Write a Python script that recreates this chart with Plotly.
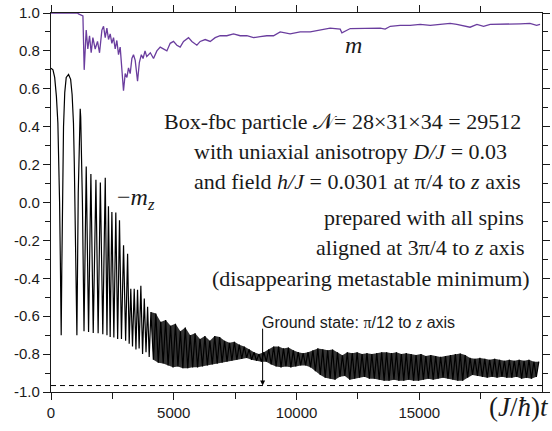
import plotly.graph_objects as go

# ---------------- data ----------------
# purple curve: m(t)
m_t = [0, 1080, 1120, 1200, 1300, 1352, 1434, 1500, 1570, 1637, 1705, 1800, 1895, 1977,
       2073, 2140, 2208, 2276, 2343, 2411, 2480, 2547, 2615, 2682, 2750, 2818, 2887,
       2953, 3022, 3092, 3157, 3226, 3295, 3360, 3430, 3525, 3600, 3680, 3750, 3830,
       3900, 4046, 4176, 4312, 4448, 4583, 4720, 4855, 4990, 5127, 5262, 5398, 5602,
       5738, 5942, 6077, 6280, 6485, 6688, 6892, 7163, 7434, 7706, 7978, 8249, 8521,
       8792, 9063, 9335, 9740, 10150, 10560, 10970, 11370, 11780, 11850, 12190, 12600,
       13000, 13410, 13610, 13820, 14220, 14630, 15040, 15450, 15850, 16260, 16530,
       17070, 17350, 17620, 17890, 18300, 18700, 19110, 19510, 19780, 19920]
m_v = [1.0, 1.0, 0.995, 0.99, 0.985, 0.70, 0.91, 0.81, 0.88, 0.79, 0.87, 0.81, 0.85, 0.79,
       0.91, 0.93, 0.87, 0.92, 0.86, 0.89, 0.84, 0.87, 0.81, 0.855, 0.78, 0.82, 0.72,
       0.59, 0.68, 0.66, 0.71, 0.68, 0.76, 0.78, 0.75, 0.64, 0.74, 0.78, 0.76, 0.80,
       0.77, 0.79, 0.76, 0.80, 0.82, 0.81, 0.80, 0.84, 0.85, 0.83, 0.82, 0.85, 0.87,
       0.85, 0.83, 0.85, 0.86, 0.85, 0.87, 0.88, 0.88, 0.89, 0.88, 0.88, 0.87, 0.875,
       0.88, 0.88, 0.90, 0.89, 0.90, 0.90, 0.912, 0.92, 0.915, 0.895, 0.918, 0.918,
       0.92, 0.92, 0.915, 0.93, 0.935, 0.935, 0.94, 0.935, 0.94, 0.945, 0.94,
       0.925, 0.94, 0.93, 0.94, 0.94, 0.94, 0.943, 0.945, 0.935, 0.94]

# black curve: -m_z(t), early well-resolved part
mz_early_t = [0, 80, 150, 220, 280, 320, 350, 380, 400, 415,
              440, 465, 490, 510, 560, 620, 715, 800, 860, 915, 950, 985, 1020, 1055,
              1110, 1170, 1190, 1210, 1280, 1345,
              1435, 1530, 1625, 1720, 1830, 1920, 2010, 2110, 2210, 2280, 2340, 2410,
              2480, 2560, 2640, 2715, 2790, 2870, 2955, 3040, 3120, 3185, 3250, 3320,
              3390, 3460, 3525, 3590, 3660, 3730, 3800, 3870, 3935, 4000]
mz_early_v = [0.708, 0.70, 0.66, 0.56, 0.42, 0.22, 0.0, -0.3, -0.5, -0.70,
              -0.35, -0.05, 0.22, 0.40, 0.58, 0.66, 0.676, 0.65, 0.57, 0.42, 0.20, -0.05, -0.35, -0.70,
              0.05, 0.45, 0.495, 0.45, 0.0, -0.68,
              0.19, -0.683, 0.15, -0.688, 0.12, -0.69, 0.105, -0.695, 0.13, -0.70, -0.02, -0.71,
              -0.05, -0.713, -0.053, -0.72, -0.094, -0.72, -0.226, -0.73, -0.27, -0.745, -0.455, -0.76,
              -0.455, -0.775, -0.46, -0.77, -0.44, -0.80, -0.507, -0.79, -0.55, -0.815]

# dense oscillating part: successive maxima and minima
peak_t = [4070, 4270, 4470, 4670, 4870, 5070, 5270, 5470, 5670, 5870,
          6070, 6270, 6470, 6670, 6870, 7070, 7270, 7470, 7670, 7870,
          8070, 8270, 8470, 8670, 8870, 9070, 9270, 9470, 9670, 9870,
          10070, 10270, 10470, 10670, 10870, 11070, 11270, 11470, 11670, 11870,
          12070, 12270, 12470, 12670, 12870, 13070, 13270, 13470, 13670, 13870,
          14070, 14270, 14470, 14670, 14870, 15070, 15270, 15470, 15670, 15870,
          16070, 16270, 16470, 16670, 16870, 17070, 17270, 17470, 17670, 17870,
          18070, 18270, 18470, 18670, 18870, 19070, 19270, 19470, 19670, 19870]
peak_v = [-0.578, -0.586, -0.63, -0.62, -0.65, -0.64, -0.68, -0.66, -0.70, -0.69,
          -0.72, -0.705, -0.73, -0.705, -0.71, -0.73, -0.74, -0.735, -0.75, -0.76,
          -0.775, -0.79, -0.80, -0.79, -0.775, -0.76, -0.76, -0.77, -0.765, -0.78,
          -0.79, -0.795, -0.79, -0.78, -0.77, -0.775, -0.78, -0.776, -0.79, -0.806,
          -0.79, -0.795, -0.79, -0.80, -0.795, -0.80, -0.795, -0.79, -0.79, -0.795,
          -0.79, -0.80, -0.795, -0.80, -0.805, -0.80, -0.81, -0.805, -0.81, -0.815,
          -0.81, -0.805, -0.80, -0.797, -0.805, -0.82, -0.825, -0.82, -0.825, -0.83,
          -0.825, -0.83, -0.835, -0.83, -0.835, -0.83, -0.835, -0.83, -0.84, -0.84]
trough_t = [4170, 4370, 4570, 4770, 4970, 5170, 5370, 5570, 5770, 5970,
            6170, 6370, 6570, 6770, 6970, 7170, 7370, 7570, 7770, 7970,
            8170, 8370, 8570, 8770, 8970, 9170, 9370, 9570, 9770, 9970,
            10170, 10370, 10570, 10770, 10970, 11170, 11370, 11570, 11770, 11970,
            12170, 12370, 12570, 12770, 12970, 13170, 13370, 13570, 13770, 13970,
            14170, 14370, 14570, 14770, 14970, 15170, 15370, 15570, 15770, 15970,
            16170, 16370, 16570, 16770, 16970, 17170, 17370, 17570, 17770, 17970,
            18170, 18370, 18570, 18770, 18970, 19170, 19370, 19570, 19770]
trough_v = [-0.83, -0.845, -0.85, -0.86, -0.87, -0.865, -0.875, -0.875, -0.87, -0.87,
            -0.865, -0.86, -0.855, -0.85, -0.845, -0.84, -0.835, -0.83, -0.825, -0.82,
            -0.83, -0.835, -0.84, -0.84, -0.855, -0.865, -0.87, -0.865, -0.87, -0.865,
            -0.86, -0.86, -0.87, -0.89, -0.91, -0.925, -0.93, -0.935, -0.92, -0.915,
            -0.935, -0.93, -0.925, -0.92, -0.93, -0.93, -0.935, -0.94, -0.94, -0.935,
            -0.94, -0.94, -0.935, -0.94, -0.94, -0.935, -0.93, -0.935, -0.93, -0.925,
            -0.93, -0.935, -0.94, -0.94, -0.925, -0.91, -0.915, -0.92, -0.925, -0.92,
            -0.925, -0.92, -0.925, -0.925, -0.92, -0.93, -0.925, -0.93, -0.92]

ground_state_mz = -0.966      # -cos(pi/12)
arrow_t = 8620
arrow_start = -0.613

x_tick_vals = [0, 5000, 10000, 15000]
x_tick_text = ["0", "5000", "10000", "15000"]
x_minor_vals = [2500, 7500, 12500, 17500]
y_tick_vals = [1.0, 0.8, 0.6, 0.4, 0.2, 0.0, -0.2, -0.4, -0.6, -0.8, -1.0]
y_tick_text = ["1.0", "0.8", "0.6", "0.4", "0.2", "0.0", "-0.2", "-0.4", "-0.6", "-0.8", "-1.0"]
y_minor_vals = [0.9, 0.7, 0.5, 0.3, 0.1, -0.1, -0.3, -0.5, -0.7, -0.9]

# ---------------- build the combined series ----------------
dense_t, dense_v = [], []
for i in range(len(peak_t)):
    dense_t.append(peak_t[i]); dense_v.append(peak_v[i])
    if i < len(trough_t):
        dense_t.append(trough_t[i]); dense_v.append(trough_v[i])
mz_t = mz_early_t + dense_t
mz_v = mz_early_v + dense_v

W, H = 552, 431
L, R, T, B = 51, 10, 13, 39
PW, PH = W - L - R, H - T - B


def px(x, y):
    return (x - L) / PW, (H - B - y) / PH


SERIF = "Liberation Serif"
SANS = "Liberation Sans"
INK = "#1a1a1a"

fig = go.Figure()

# band between envelopes of the fast oscillation
fig.add_trace(go.Scatter(
    x=peak_t + trough_t[::-1], y=peak_v + trough_v[::-1],
    mode="lines", fill="toself", fillcolor="rgba(0,0,0,0.8)",
    line=dict(width=0), hoverinfo="skip", showlegend=False))

fig.add_trace(go.Scatter(x=mz_t, y=mz_v, mode="lines",
                         line=dict(color="black", width=1.2), showlegend=False))
fig.add_trace(go.Scatter(x=m_t, y=m_v, mode="lines",
                         line=dict(color="#6a3d9e", width=1.3), showlegend=False))

fig.add_hline(y=ground_state_mz, line=dict(color="black", width=1, dash="5px,4px"))

fig.add_annotation(x=arrow_t, y=ground_state_mz, ax=arrow_t, ay=arrow_start,
                   xref="x", yref="y", axref="x", ayref="y", showarrow=True,
                   arrowhead=2, arrowsize=1, arrowwidth=1, arrowcolor="black",
                   standoff=0, text=" ")

texts = [
    ("Box-fbc particle 𝒩= 28×31×34 = 29512", 342.5, 121, "center"),
    ("with uniaxial anisotropy <i>D/J</i> = 0.03", 350.5, 151, "center"),
    ("and field <i>h/J</i> = 0.0301 at π/4 to <i>z</i> axis", 357, 181, "center"),
    ("prepared with all spins", 424, 217, "center"),
    ("aligned at 3π/4 to <i>z</i> axis", 420, 247, "center"),
    ("(disappearing metastable minimum)", 371, 278, "center"),
]
for s, x, y, anc in texts:
    xp, yp = px(x, y)
    fig.add_annotation(x=xp, y=yp, xref="paper", yref="paper", text=s, showarrow=False,
                       xanchor=anc, yanchor="middle",
                       font=dict(family=SERIF, size=22, color=INK))

xp, yp = px(260, 322.7)
fig.add_annotation(x=xp, y=yp, xref="paper", yref="paper", showarrow=False,
                   xanchor="left", yanchor="middle",
                   text="Ground state: <span style='font-family:Liberation Serif'>π</span>/12 to "
                        "<span style='font-family:Liberation Serif'><i>z</i></span> axis",
                   font=dict(family=SANS, size=16, color=INK))

xp, yp = px(353, 45)
fig.add_annotation(x=xp, y=yp, xref="paper", yref="paper", showarrow=False,
                   xanchor="center", yanchor="middle", text="<i>m</i>",
                   font=dict(family=SERIF, size=24, color=INK))

xp, yp = px(115, 199)
fig.add_annotation(x=xp, y=yp, xref="paper", yref="paper", showarrow=False,
                   xanchor="left", yanchor="middle", text="−<i>m</i><sub><i>z</i></sub>",
                   font=dict(family=SERIF, size=24, color=INK))

xp, yp = px(551, 407)
fig.add_annotation(x=xp, y=yp, xref="paper", yref="paper", showarrow=False,
                   xanchor="right", yanchor="middle", text="(<i>J</i>/<i>ħ</i>)<i>t</i>",
                   font=dict(family=SERIF, size=27, color=INK))

axis_common = dict(showline=True, linecolor=INK, linewidth=1.3, mirror="ticks",
                   ticks="outside", ticklen=7, tickwidth=1, tickcolor=INK,
                   showgrid=False, zeroline=False, automargin=False,
                   tickfont=dict(family=SANS, size=15, color=INK))

fig.update_xaxes(range=[0, 20000], tickmode="array", tickvals=x_tick_vals, ticktext=x_tick_text,
                 minor=dict(tickmode="array", tickvals=x_minor_vals, ticks="outside",
                            ticklen=6, tickwidth=1, tickcolor=INK),
                 **axis_common)
fig.update_yaxes(range=[-1, 1], tickmode="array", tickvals=y_tick_vals, ticktext=y_tick_text,
                 minor=dict(tickmode="array", tickvals=y_minor_vals, ticks="outside",
                            ticklen=5, tickwidth=1, tickcolor=INK),
                 **axis_common)

fig.update_layout(template="none", width=W, height=H,
                  margin=dict(l=L, r=R, t=T, b=B, pad=0, autoexpand=False),
                  paper_bgcolor="white", plot_bgcolor="white", showlegend=False)

fig.write_html("out.html", config={"displayModeBar": False},
               post_script="document.body.style.margin='0';")
